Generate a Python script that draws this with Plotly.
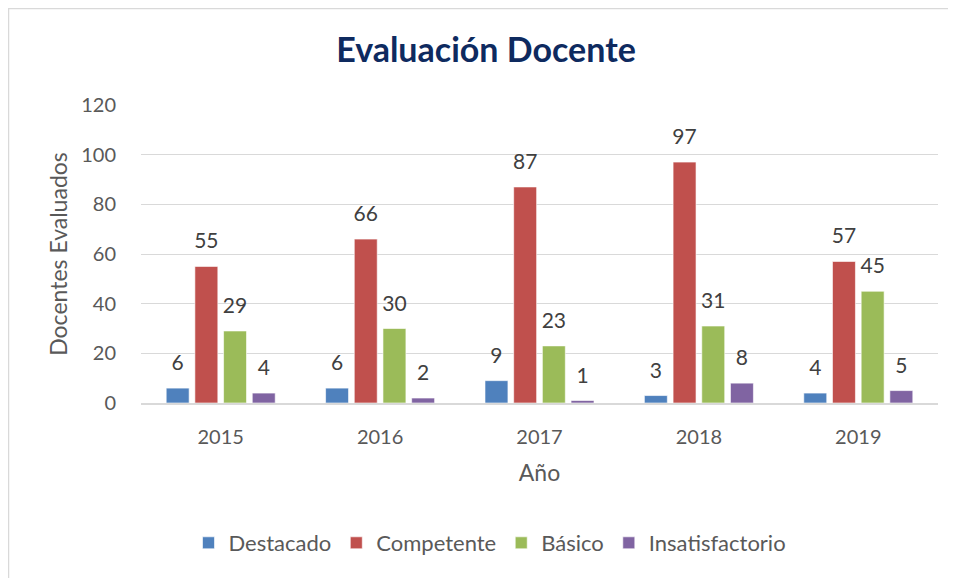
import plotly.graph_objects as go

years = ["2015", "2016", "2017", "2018", "2019"]
destacado = [6, 6, 9, 3, 4]
competente = [55, 66, 87, 97, 57]
basico = [29, 30, 23, 31, 45]
insatisfactorio = [4, 2, 1, 8, 5]

series_names = ["Destacado", "Competente", "Básico", "Insatisfactorio"]
series_values = [destacado, competente, basico, insatisfactorio]
colors = ["#4f81bd", "#c0504d", "#9bbb59", "#8064a2"]

FONT = "Lato, 'Open Sans', sans-serif"
TXT = "#595959"

fig = go.Figure()
for name, vals, col in zip(series_names, series_values, colors):
    fig.add_trace(go.Bar(
        x=years, y=vals, name=name,
        marker=dict(color=col, line=dict(color="rgba(255,255,255,0.6)", width=1)),
        text=[f"<span style='font-size:21px'>{v}</span><br> " for v in vals],
        texttemplate="%{text}",
        textposition="outside",
        constraintext="none",
        textfont=dict(family=FONT, size=10, color="#404040"),
        cliponaxis=False,
        hoverinfo="x+y+name",
    ))

# the page has an 8px body margin; layout is expressed in figure coords
W, H = 956, 578
L, R, T, B = 133, 26, 97, 183
pw = W - L - R
ph = H - T - B

def px(x):
    return (x - L) / pw

def py(y):
    return (H - B - y) / ph

fig.update_layout(
    width=W, height=H,
    margin=dict(l=L, r=R, t=T, b=B, autoexpand=False),
    paper_bgcolor="white", plot_bgcolor="white",
    barmode="group", bargap=0.28, bargroupgap=0.2,
    font=dict(family=FONT, color=TXT),
    title=dict(text="<b>Evaluación Docente</b>", x=478 / W, xanchor="center",
               y=1 - 42 / H, yanchor="middle", yref="container",
               font=dict(family=FONT, size=34, color="#0e2a5f")),
    xaxis=dict(
        type="category", showgrid=False, showline=True, linecolor="#d9d9d9", linewidth=1.5,
        ticks="", tickfont=dict(size=20, color=TXT), ticklabelstandoff=15,
        title=dict(text="Año", font=dict(size=23, color=TXT), standoff=18),
    ),
    yaxis=dict(
        range=[0, 120], dtick=20, showgrid=True, gridcolor="#d9d9d9", gridwidth=1,
        zeroline=False, showline=False, ticks="",
        tickfont=dict(size=20, color=TXT), ticklabelstandoff=24,
        title=dict(text="Docentes Evaluados", font=dict(size=23, color=TXT), standoff=7),
    ),
    legend=dict(orientation="h", x=px(482), xref="paper", xanchor="center",
                y=py(535), yanchor="middle",
                font=dict(size=22, color=TXT), itemwidth=30, tracegroupgap=0,
                bgcolor="rgba(0,0,0,0)"),
    shapes=[dict(type="rect", xref="paper", yref="paper",
                 x0=px(0.5), x1=px(990), y0=py(0.5), y1=py(620),
                 line=dict(color="#d9d9d9", width=1.5), fillcolor="rgba(0,0,0,0)", layer="below")],
    showlegend=True,
)

fig.write_html("out.html")
